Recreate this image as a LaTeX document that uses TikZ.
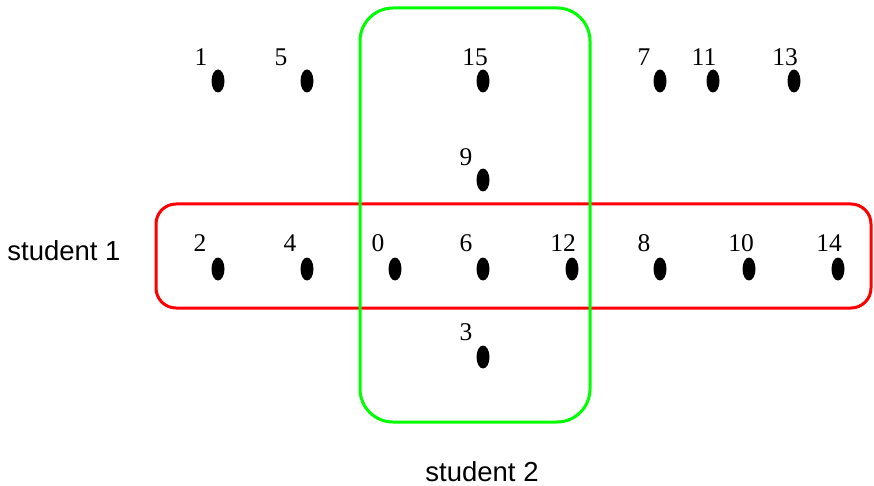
\documentclass[tikz,border=0pt]{standalone}
\usepackage{fontspec}
\setmainfont{Liberation Serif}
\newfontfamily\labelsans{Liberation Sans}
\begin{document}
\begin{tikzpicture}[x=1pt,y=-1pt,
  num/.style={font=\fontsize{25.5}{30}\selectfont,inner sep=0pt},
  captxt/.style={font=\labelsans\fontsize{27.5}{32}\selectfont,inner sep=0pt},
  setbox/.style={line width=3pt}]
\useasboundingbox (0,0) rectangle (874,486);
% sets
\draw[setbox,red,rounded corners=20pt] (156,204) rectangle (871,308);
\draw[setbox,green,rounded corners=33pt] (360,8) rectangle (590,422);
% dots
\foreach \n/\x/\y in {1/218/81, 5/307/81, 15/483/81, 7/660/81, 11/713/81, 13/794/81,
  9/483/180,
  2/218/269, 4/307/269, 0/395/269, 6/483/269, 12/572/269, 8/660/269, 10/749/269, 14/838/269,
  3/483/357}{
  \fill (\x,\y) ellipse [x radius=6.5, y radius=11.5];
}
% labels
\foreach \n/\x/\y in {1/201/57, 5/281/57, 15/475/57, 7/644/57, 11/704/57, 13/785/57,
  9/466/157,
  2/200/243, 4/290/243, 0/378/243, 6/466/243, 12/563/243, 8/644/243, 10/741/243, 14/829/243,
  3/466/332}{
  \node[num] (l\n) at (\x,\y) {\n};
}
\node[captxt] (s1) at (64,251) {student 1};
\node[captxt] (s2) at (482,472) {student 2};
\end{tikzpicture}
\end{document}
